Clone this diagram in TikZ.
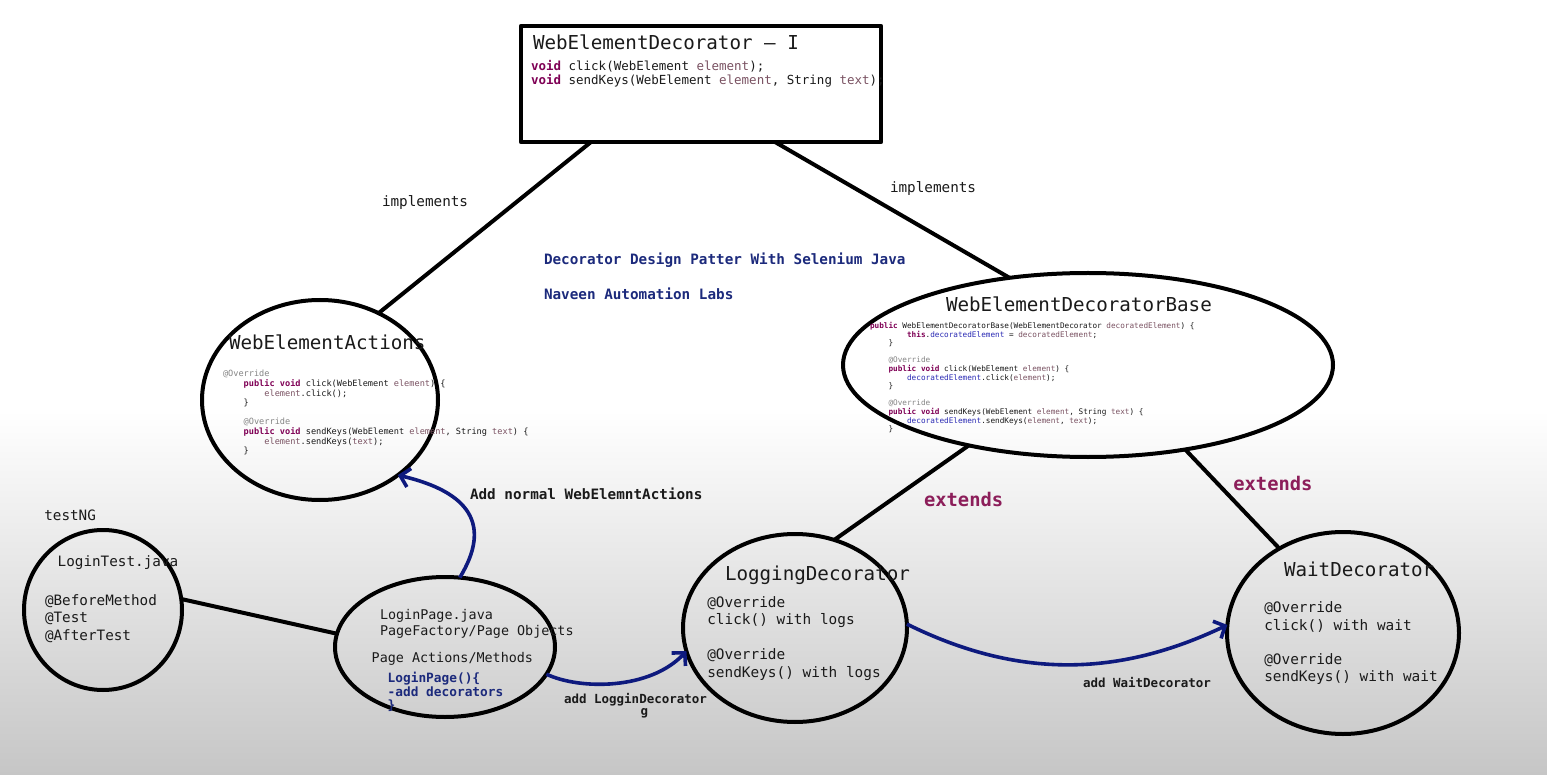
\documentclass[tikz,border=0pt]{standalone}
\usepackage{fontspec}
\setmonofont{DejaVu Sans Mono}
\usetikzlibrary{arrows.meta,shapes.geometric}
\definecolor{kwc}{HTML}{7F0055}
\definecolor{varc}{HTML}{7A5262}
\definecolor{fldc}{HTML}{2A2AB4}
\definecolor{annc}{HTML}{858585}
\definecolor{navyc}{HTML}{1C2A7C}
\definecolor{arrc}{HTML}{0E1A7E}
\definecolor{extc}{HTML}{8C1E5A}
\definecolor{inkc}{HTML}{1A1A1A}
\definecolor{bgbot}{HTML}{C6C6C6}
\newcommand\ckw[1]{\textcolor{kwc}{\bfseries #1}}
\newcommand\cvar[1]{\textcolor{varc}{#1}}
\newcommand\cfld[1]{\textcolor{fldc}{#1}}
\newcommand\cann[1]{\textcolor{annc}{#1}}
\newcommand\ind[1]{\hphantom{#1}}
\newcommand\vlines[2]{\vtop{\baselineskip=#1\lineskiplimit=-100pt\lineskip=0pt\relax #2}}
\begin{document}
\begin{tikzpicture}[x=1pt,y=-1pt,line join=round,
  oval/.style={ellipse,draw=black,line width=4pt,inner sep=0pt,outer sep=0pt},
  conn/.style={draw=black,line width=4pt},
  arrowc/.style={draw=arrc,line width=3.6pt,-{Straight Barb[length=9pt,width=19pt]}},
  txt/.style={anchor=base west,inner sep=0pt,outer sep=0pt,text=inkc,font=\ttfamily\fontsize{14.3}{17.5}\selectfont},
  ttl/.style={txt,font=\ttfamily\fontsize{19.2}{23}\selectfont},
  lbl/.style={txt,font=\ttfamily\bfseries\fontsize{14.3}{17.5}\selectfont},
  sml/.style={txt,font=\ttfamily\bfseries\fontsize{12.5}{15}\selectfont},
  ext/.style={txt,text=extc,font=\ttfamily\bfseries\fontsize{18.8}{22}\selectfont}]
\useasboundingbox (0,0) rectangle (1547,775);
\fill[white] (0,0) rectangle (1547,775);
\shade[top color=white,bottom color=bgbot] (0,410) rectangle (1547,775);

% shapes
\node[draw=black,line width=4.5pt,minimum width=360pt,minimum height=116pt,inner sep=0pt,outer sep=0pt] (iface) at (701,84) {};
\node[oval,minimum width=236pt,minimum height=200pt] (wea) at (320,400) {};
\node[oval,minimum width=490pt,minimum height=184pt] (base) at (1088,365) {};
\node[oval,minimum width=158pt,minimum height=160pt] (lt) at (103,610) {};
\node[oval,minimum width=220pt,minimum height=140pt] (lp) at (445,647) {};
\node[oval,minimum width=224pt,minimum height=188pt] (ld) at (795,628) {};
\node[oval,minimum width=232pt,minimum height=202pt] (wd) at (1343,633) {};

% connectors
\draw[conn] ([xshift=70pt]iface.south west) -- (wea.56);
\draw[conn] ([xshift=254pt]iface.south west) -- (base.132);
\draw[conn] (base.214) -- (ld.66);
\draw[conn] (base.319) -- (wd.127);
\draw[conn] (lt.8) -- (lp.173);
\draw[arrowc] (lp.78) .. controls (492,525) and (470,492) .. (wea.316);
\draw[arrowc] (lp.345.5) .. controls (580,690) and (650,690) .. (ld.192);
\draw[arrowc] (ld.2) .. controls (1020,680) and (1120,676) .. (wd.176);

% interface box text
\node[ttl] (ifacet) at (533,50) {WebElementDecorator – I};
\node[txt,font=\ttfamily\fontsize{12.5}{14}\selectfont] (ifacec) at (531,70.7) {\vlines{14.3pt}{%
  \hbox{\ckw{void} click(WebElement \cvar{element});}
  \hbox{\ckw{void} sendKeys(WebElement \cvar{element}, String \cvar{text});}}};

% WebElementActions
\node[ttl] (weat) at (229,350) {WebElementActions};
\node[txt,font=\ttfamily\fontsize{8.6}{9.6}\selectfont] (weac) at (223,377) {\vlines{9.6pt}{%
  \hbox{\cann{@Override}}
  \hbox{\ind{0000}\ckw{public} \ckw{void} click(WebElement \cvar{element}) \{}
  \hbox{\ind{00000000}\cvar{element}.click();}
  \hbox{\ind{0000}\}}
  \hbox{}
  \hbox{\ind{0000}\cann{@Override}}
  \hbox{\ind{0000}\ckw{public} \ckw{void} sendKeys(WebElement \cvar{element}, String \cvar{text}) \{}
  \hbox{\ind{00000000}\cvar{element}.sendKeys(\cvar{text});}
  \hbox{\ind{0000}\}}}};

% WebElementDecoratorBase
\node[ttl] (baset) at (946,312) {WebElementDecoratorBase};
\node[txt,font=\ttfamily\fontsize{7.7}{8.6}\selectfont] (basec) at (870,328.5) {\vlines{8.6pt}{%
  \hbox{\ckw{public} WebElementDecoratorBase(WebElementDecorator \cvar{decoratedElement}) \{}
  \hbox{\ind{00000000}\ckw{this}.\cfld{decoratedElement} = \cvar{decoratedElement};}
  \hbox{\ind{0000}\}}
  \hbox{}
  \hbox{\ind{0000}\cann{@Override}}
  \hbox{\ind{0000}\ckw{public} \ckw{void} click(WebElement \cvar{element}) \{}
  \hbox{\ind{00000000}\cfld{decoratedElement}.click(\cvar{element});}
  \hbox{\ind{0000}\}}
  \hbox{}
  \hbox{\ind{0000}\cann{@Override}}
  \hbox{\ind{0000}\ckw{public} \ckw{void} sendKeys(WebElement \cvar{element}, String \cvar{text}) \{}
  \hbox{\ind{00000000}\cfld{decoratedElement}.sendKeys(\cvar{element}, \cvar{text});}
  \hbox{\ind{0000}\}}}};

% LoginTest
\node[txt] (testng) at (44.3,520) {testNG};
\node[txt] (ltt) at (57.7,566.7) {LoginTest.java};
\node[txt] (ltc) at (45,605) {\vlines{17.5pt}{%
  \hbox{@BeforeMethod}\hbox{@Test}\hbox{@AfterTest}}};

% LoginPage
\node[txt,font=\ttfamily\fontsize{13.4}{16}\selectfont] (lpt) at (380,619.3) {\vlines{16.4pt}{%
  \hbox{LoginPage.java}\hbox{PageFactory/Page Objects}}};
\node[txt,font=\ttfamily\fontsize{13.4}{16}\selectfont] (lpa) at (371.7,662.7) {Page Actions/Methods};
\node[txt,text=navyc,font=\ttfamily\bfseries\fontsize{12.8}{13.3}\selectfont] (lpc) at (387.7,682.7) {\vlines{13.3pt}{%
  \hbox{LoginPage()\{}\hbox{-add decorators}\hbox{\}}}};

% LoggingDecorator
\node[ttl] (ldt) at (725,580.7) {LoggingDecorator};
\node[txt,font=\ttfamily\fontsize{14.4}{17.5}\selectfont] (ldc) at (707.3,607.3) {\vlines{17.5pt}{%
  \hbox{@Override}\hbox{click() with logs}\hbox{}\hbox{@Override}\hbox{sendKeys() with logs}}};

% WaitDecorator
\node[ttl] (wdt) at (1284,576) {WaitDecorator};
\node[txt,font=\ttfamily\fontsize{14.4}{17.3}\selectfont] (wdc) at (1264.3,612.7) {\vlines{17.3pt}{%
  \hbox{@Override}\hbox{click() with wait}\hbox{}\hbox{@Override}\hbox{sendKeys() with wait}}};

% labels
\node[txt] (impl1) at (382,207) {implements};
\node[txt] (impl2) at (890,193) {implements};
\node[lbl,text=navyc] (head1) at (544,265) {Decorator Design Patter With Selenium Java};
\node[lbl,text=navyc] (head2) at (544,300) {Naveen Automation Labs};
\node[lbl] (addnorm) at (470,499.3) {Add normal WebElemntActions};
\node[ext] (ext1) at (924,506.7) {extends};
\node[ext] (ext2) at (1233.3,490) {extends};
\node[sml] (addlog) at (564,703) {add LogginDecorator};
\node[sml] (addlogg) at (640.7,715.5) {g};
\node[sml] (addwait) at (1083,687) {add WaitDecorator};
\end{tikzpicture}
\end{document}
